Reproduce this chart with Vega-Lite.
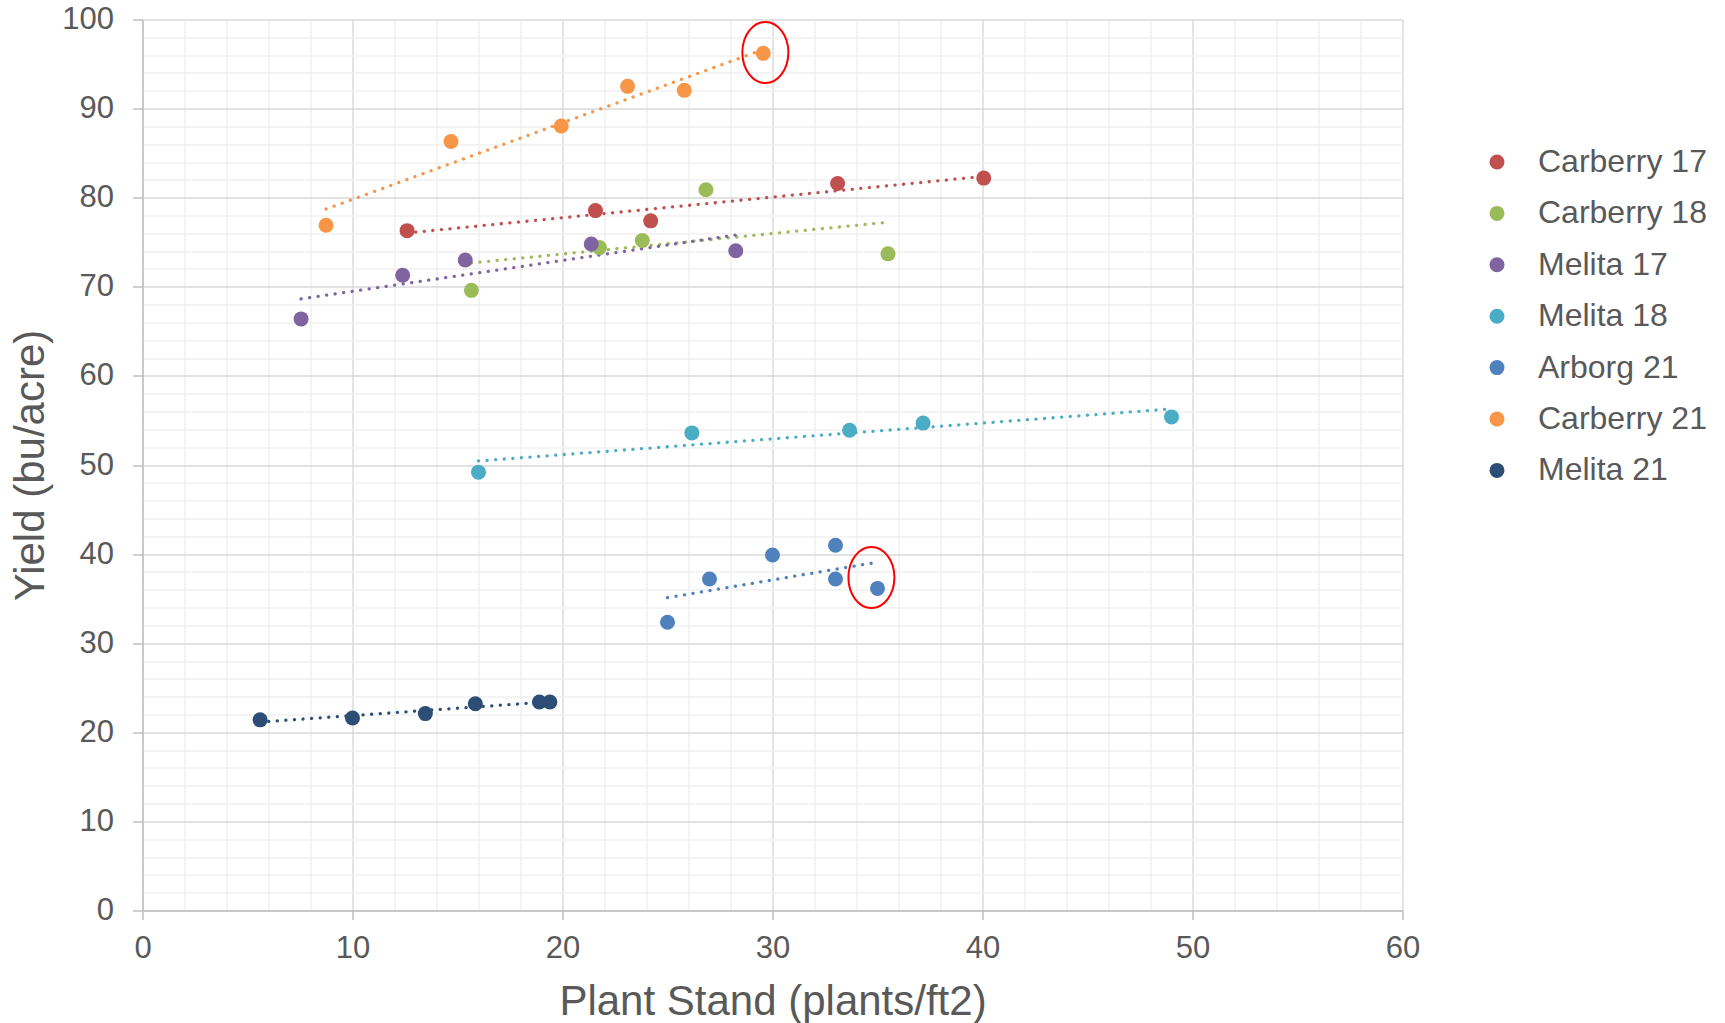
{
  "$schema": "https://vega.github.io/schema/vega-lite/v6.json",
  "width": 1260,
  "height": 891,
  "autosize": {"type": "none"},
  "padding": {"left": 142.5, "top": 19.5, "right": 322.5, "bottom": 112.5},
  "background": "white",
  "config": {
    "view": {"stroke": null},
    "font": "Liberation Sans",
    "axis": {"labelFont": "Liberation Sans", "titleFont": "Liberation Sans"},
    "legend": {"labelFont": "Liberation Sans"}
  },
  "datasets": {
    "points": [
      {"series": "Carberry 17", "stand": 12.6, "yield": 76.3},
      {"series": "Carberry 17", "stand": 21.57, "yield": 78.55},
      {"series": "Carberry 17", "stand": 24.2, "yield": 77.4},
      {"series": "Carberry 17", "stand": 33.1, "yield": 81.6},
      {"series": "Carberry 17", "stand": 40.06, "yield": 82.2},
      {"series": "Carberry 18", "stand": 15.66, "yield": 69.6},
      {"series": "Carberry 18", "stand": 21.76, "yield": 74.4},
      {"series": "Carberry 18", "stand": 23.8, "yield": 75.2},
      {"series": "Carberry 18", "stand": 26.83, "yield": 80.9},
      {"series": "Carberry 18", "stand": 35.5, "yield": 73.7},
      {"series": "Melita 17", "stand": 7.55, "yield": 66.4},
      {"series": "Melita 17", "stand": 12.39, "yield": 71.3},
      {"series": "Melita 17", "stand": 15.37, "yield": 73.0},
      {"series": "Melita 17", "stand": 21.37, "yield": 74.8},
      {"series": "Melita 17", "stand": 28.25, "yield": 74.05},
      {"series": "Melita 18", "stand": 16.0, "yield": 49.2},
      {"series": "Melita 18", "stand": 26.16, "yield": 53.6},
      {"series": "Melita 18", "stand": 33.67, "yield": 53.9},
      {"series": "Melita 18", "stand": 37.17, "yield": 54.7},
      {"series": "Melita 18", "stand": 49.0, "yield": 55.4},
      {"series": "Arborg 21", "stand": 25.0, "yield": 32.35},
      {"series": "Arborg 21", "stand": 27.0, "yield": 37.2},
      {"series": "Arborg 21", "stand": 30.0, "yield": 39.9},
      {"series": "Arborg 21", "stand": 33.0, "yield": 41.0},
      {"series": "Arborg 21", "stand": 33.0, "yield": 37.2},
      {"series": "Arborg 21", "stand": 35.0, "yield": 36.15},
      {"series": "Carberry 21", "stand": 8.74, "yield": 76.9},
      {"series": "Carberry 21", "stand": 14.69, "yield": 86.3},
      {"series": "Carberry 21", "stand": 19.94, "yield": 88.05},
      {"series": "Carberry 21", "stand": 23.1, "yield": 92.5},
      {"series": "Carberry 21", "stand": 25.8, "yield": 92.05},
      {"series": "Carberry 21", "stand": 29.56, "yield": 96.2},
      {"series": "Melita 21", "stand": 5.6, "yield": 21.4},
      {"series": "Melita 21", "stand": 10.0, "yield": 21.6},
      {"series": "Melita 21", "stand": 13.47, "yield": 22.1},
      {"series": "Melita 21", "stand": 15.85, "yield": 23.2},
      {"series": "Melita 21", "stand": 18.9, "yield": 23.4},
      {"series": "Melita 21", "stand": 19.4, "yield": 23.4}
    ],
    "highlights": [
      {"stand": 29.66, "yield": 96.3},
      {"stand": 34.71, "yield": 37.37}
    ]
  },
  "encoding": {
    "x": {
      "field": "stand",
      "type": "quantitative",
      "scale": {"domain": [0, 60], "nice": false, "zero": false},
      "axis": {
        "title": "Plant Stand (plants/ft2)",
        "values": [0,2,4,6,8,10,12,14,16,18,20,22,24,26,28,30,32,34,36,38,40,42,44,46,48,50,52,54,56,58,60],
        "labelExpr": "datum.value % 10 === 0 ? datum.label : ''",
        "labelFontSize": 31,
        "labelColor": "#595959",
        "labelPadding": 14,
        "labelFlush": false,
        "labelOverlap": false,
        "grid": true,
        "gridColor": {"condition": {"test": "datum.value % 10 === 0", "value": "#d9d9d9"}, "value": "#f0f0f0"},
        "gridWidth": 1.4,
        "domainColor": "#bfbfbf",
        "domainWidth": 1.5,
        "tickColor": "#bfbfbf",
        "tickWidth": 1.5,
        "tickSize": 9,
        "tickOpacity": {"condition": {"test": "datum.value % 10 === 0", "value": 1}, "value": 0},
        "titleFontSize": 42,
        "titleFontWeight": "normal",
        "titleColor": "#595959",
        "titlePadding": 18
      }
    },
    "y": {
      "field": "yield",
      "type": "quantitative",
      "scale": {"domain": [0, 100], "nice": false},
      "axis": {
        "title": "Yield (bu/acre)",
        "values": [0,2,4,6,8,10,12,14,16,18,20,22,24,26,28,30,32,34,36,38,40,42,44,46,48,50,52,54,56,58,60,62,64,66,68,70,72,74,76,78,80,82,84,86,88,90,92,94,96,98,100],
        "labelExpr": "datum.value % 10 === 0 ? datum.label : ''",
        "labelFontSize": 31,
        "labelColor": "#595959",
        "labelPadding": 19,
        "labelFlush": false,
        "labelOverlap": false,
        "grid": true,
        "gridColor": {"condition": {"test": "datum.value % 10 === 0", "value": "#d9d9d9"}, "value": "#f0f0f0"},
        "gridWidth": 1.4,
        "domainColor": "#bfbfbf",
        "domainWidth": 1.5,
        "tickColor": "#bfbfbf",
        "tickWidth": 1.5,
        "tickSize": 10,
        "tickOpacity": {"condition": {"test": "datum.value % 10 === 0", "value": 1}, "value": 0},
        "titleFontSize": 42,
        "titleFontWeight": "normal",
        "titleColor": "#595959",
        "titlePadding": 9
      }
    }
  },
  "layer": [
    {
      "data": {"name": "points"},
      "transform": [{"regression": "yield", "on": "stand", "groupby": ["series"]}],
      "mark": {"type": "line", "strokeWidth": 3.3, "strokeCap": "round", "strokeDash": [0.1, 8.5]},
      "encoding": {
        "stroke": {
          "field": "series",
          "type": "nominal",
          "scale": {
            "domain": ["Arborg 21", "Carberry 17", "Carberry 18", "Carberry 21", "Melita 17", "Melita 18", "Melita 21"],
            "range": ["#4F81BD", "#C0504D", "#9BBB59", "#F79646", "#8064A2", "#4BACC6", "#2C4D75"]
          },
          "legend": null
        }
      }
    },
    {
      "data": {"name": "points"},
      "mark": {"type": "circle", "size": 225, "opacity": 1},
      "encoding": {
        "color": {
          "field": "series",
          "type": "nominal",
          "scale": {
            "domain": ["Carberry 17", "Carberry 18", "Melita 17", "Melita 18", "Arborg 21", "Carberry 21", "Melita 21"],
            "range": ["#C0504D", "#9BBB59", "#8064A2", "#4BACC6", "#4F81BD", "#F79646", "#2C4D75"]
          },
          "legend": {
            "title": null,
            "orient": "none",
            "legendX": 1338.5,
            "legendY": 126.5,
            "padding": 0,
            "symbolType": "circle",
            "symbolSize": 225,
            "symbolStrokeWidth": 0,
            "labelFontSize": 32,
            "labelColor": "#595959",
            "labelOffset": 25,
            "rowPadding": 19.4,
            "labelLimit": 400
          }
        }
      }
    },
    {
      "data": {"name": "highlights"},
      "mark": {
        "type": "point",
        "shape": "M 0,-1 C 0.4164,-1 0.754,-0.5523 0.754,0 C 0.754,0.5523 0.4164,1 0,1 C -0.4164,1 -0.754,0.5523 -0.754,0 C -0.754,-0.5523 -0.4164,-1 0,-1 Z",
        "size": 3721,
        "filled": false,
        "stroke": "#FF0000",
        "strokeWidth": 2,
        "opacity": 1
      },
      "encoding": {}
    }
  ]
}
